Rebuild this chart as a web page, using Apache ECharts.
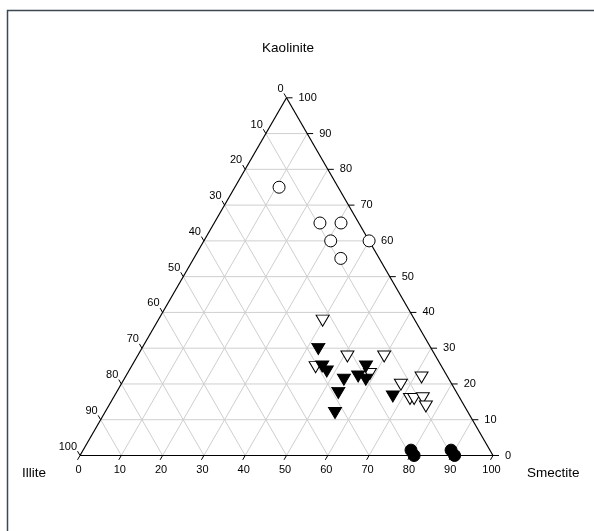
<!DOCTYPE html>
<html>
<head>
<meta charset="utf-8">
<script src="https://cdn.jsdelivr.net/npm/echarts@6/dist/echarts.min.js"></script>
<style>
html,body{margin:0;padding:0;background:#fff;}
#chart{width:594px;height:531px;}
</style>
</head>
<body>
<div id="chart"></div>
<script>
// Axis titles and tick labels
var vertexTitles = ['Kaolinite', 'Illite', 'Smectite'];
var tickValues = [0, 10, 20, 30, 40, 50, 60, 70, 80, 90, 100];

// Data: Smectite (%) and Kaolinite (%); Illite = 100 - Smectite - Kaolinite
var openCircleSmectite = [10.7, 25.6, 30.7, 30.7, 40.0, 35.6];
var openCircleKaolinite = [75.0, 65.0, 65.0, 60.0, 60.0, 55.1];

var openTriSmectite = [39.9, 50.9, 59.8, 44.7, 58.8, 71.8, 67.8, 72.0, 73.0, 75.0, 76.9];
var openTriKaolinite = [37.7, 27.7, 27.7, 24.7, 22.8, 21.8, 19.8, 15.8, 15.8, 16.0, 13.7];

var filledTriSmectite = [42.8, 46.2, 48.0, 53.3, 53.8, 55.8, 56.8, 56.3, 58.6, 67.5];
var filledTriKaolinite = [29.8, 24.9, 23.5, 21.2, 17.5, 11.9, 24.9, 22.1, 21.2, 16.5];

var filledCircleSmectite = [79.4, 80.9, 89.1, 90.7];
var filledCircleKaolinite = [1.5, 0.0, 1.5, 0.0];

var H = Math.sqrt(3) / 2;
function tern(s, k) { return [s + k / 2, k * H]; }
function toXY(sArr, kArr) {
  return sArr.map(function (s, i) { return tern(s, kArr[i]); });
}

var FONT = '"Liberation Sans", Arial, sans-serif';
var GRIDC = '#cfcfcf';

function renderFrame(params, api) {
  var children = [];
  function P(s, k) { return api.coord(tern(s, k)); }
  function line(a, b, color, w) {
    children.push({type: 'line', shape: {x1: a[0], y1: a[1], x2: b[0], y2: b[1]},
      style: {stroke: color, lineWidth: w}, silent: true});
  }
  function text(str, x, y, align, valign, size) {
    children.push({type: 'text', silent: true,
      style: {text: str, x: x, y: y, fill: '#000', font: size + 'px ' + FONT,
        align: align, verticalAlign: valign, textAlign: align, textVerticalAlign: valign}});
  }
  // grid lines
  for (var j = 10; j < 100; j += 10) {
    line(P(0, j), P(100 - j, j), GRIDC, 1);          // constant Kaolinite
    line(P(j, 0), P(j, 100 - j), GRIDC, 1);          // constant Smectite
    line(P(100 - j, 0), P(0, 100 - j), GRIDC, 1);    // constant Illite
  }
  // triangle outline
  var A = P(0, 0), B = P(100, 0), C = P(0, 100);
  line(A, B, '#000', 1.2);
  line(B, C, '#000', 1.2);
  line(C, A, '#000', 1.2);
  // ticks and labels
  var L = 5;
  tickValues.forEach(function (t) {
    // Kaolinite: right edge
    var pk = P(100 - t, t);
    line(pk, [pk[0] + 6, pk[1]], '#000', 1);
    text(String(t), pk[0] + 12, pk[1], 'left', 'middle', 11);
    // Smectite: bottom edge
    var ps = P(t, 0);
    line(ps, [ps[0] - 0.5 * L, ps[1] + H * L], '#000', 1);
    text(String(t), ps[0] - 1.5, ps[1] + 14, 'center', 'middle', 11);
    // Illite: left edge
    var pi = P(0, 100 - t);
    line(pi, [pi[0] - 0.5 * L, pi[1] - H * L], '#000', 1);
    text(String(t), pi[0] - 3, pi[1] - 9, 'right', 'middle', 11);
  });
  return {type: 'group', children: children};
}

var downTri = 'path://M0,0L12,0L6,10.4Z';

var chart = echarts.init(document.getElementById('chart'));
chart.setOption({
  backgroundColor: '#fff',
  animation: false,
  grid: {left: 80, top: 97.8, width: 413, height: 357.7, containLabel: false},
  xAxis: {type: 'value', min: 0, max: 100, show: false},
  yAxis: {type: 'value', min: 0, max: 100 * H, show: false},
  graphic: [
    {type: 'rect', shape: {x: 7.5, y: 10.5, width: 620, height: 620},
      style: {fill: 'none', stroke: '#3d4852', lineWidth: 1.5}, silent: true, z: -10},
    {type: 'text', x: 288, y: 48, style: {text: vertexTitles[0], font: '13.5px ' + FONT,
      fill: '#000', align: 'center', verticalAlign: 'middle'}},
    {type: 'text', x: 22, y: 473, style: {text: vertexTitles[1], font: '13.5px ' + FONT,
      fill: '#000', align: 'left', verticalAlign: 'middle'}},
    {type: 'text', x: 527, y: 473, style: {text: vertexTitles[2], font: '13.5px ' + FONT,
      fill: '#000', align: 'left', verticalAlign: 'middle'}}
  ],
  series: [
    {type: 'custom', renderItem: renderFrame, data: [[0, 0]], silent: true, z: 1, clip: false},
    {type: 'scatter', data: toXY(openCircleSmectite, openCircleKaolinite), symbol: 'circle',
      symbolSize: 12, clip: false, z: 3,
      itemStyle: {color: '#fff', borderColor: '#000', borderWidth: 1, opacity: 1}},
    {type: 'scatter', data: toXY(openTriSmectite, openTriKaolinite), symbol: downTri,
      symbolSize: [13, 11], clip: false, z: 3,
      itemStyle: {color: '#fff', borderColor: '#000', borderWidth: 1, opacity: 1}},
    {type: 'scatter', data: toXY(filledTriSmectite, filledTriKaolinite), symbol: downTri,
      symbolSize: [13, 11], clip: false, z: 4,
      itemStyle: {color: '#000', borderColor: '#000', borderWidth: 1, opacity: 1}},
    {type: 'scatter', data: toXY(filledCircleSmectite, filledCircleKaolinite), symbol: 'circle',
      symbolSize: 12, clip: false, z: 4,
      itemStyle: {color: '#000', borderColor: '#000', borderWidth: 1, opacity: 1}}
  ]
});
</script>
</body>
</html>
